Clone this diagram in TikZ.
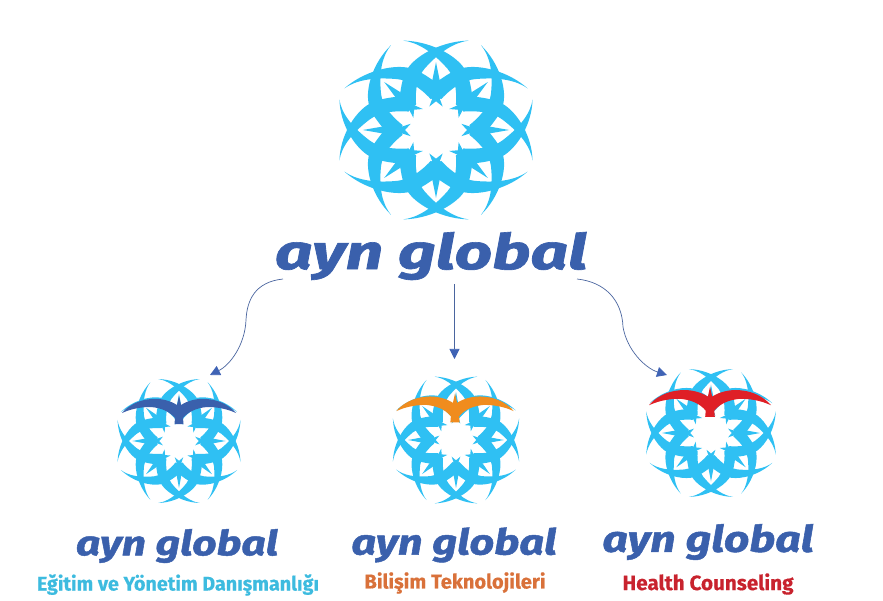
\documentclass[tikz,border=0pt]{standalone}
\usepackage{fontspec}
\usepackage{graphicx}
\setmainfont{Fira Sans}
\newfontfamily\heavyface[BoldItalicFeatures={FakeBold=1.3}]{Fira Sans}
\newfontfamily\labelface[BoldFeatures={FakeBold=0.5}]{Fira Sans}
\usetikzlibrary{arrows.meta}
\definecolor{logosky}{HTML}{2FC0F3}
\definecolor{brandblue}{HTML}{3A60AC}
\definecolor{linkblue}{HTML}{4A659F}
\definecolor{tipblue}{HTML}{3F63B5}
\definecolor{birdorange}{HTML}{F08C1E}
\definecolor{birdred}{HTML}{DF1F26}
\definecolor{labelsky}{HTML}{3DBBDF}
\definecolor{labelorange}{HTML}{D9713A}
\definecolor{labelred}{HTML}{C8232E}
\tikzset{
  rosette/.pic={
    \foreach \a in {0,45,...,315}{
      \begin{scope}[rotate=\a]
        \fill[logosky] (8,-152) .. controls (40,-176) and (60,-188) .. (85,-192) .. controls (130,-199) and (205,-180) .. (260,-128) .. controls (228,-152) and (180,-163) .. (110,-156) .. controls (80,-152) and (50,-135) .. (15,-95) -- (0,-100) -- cycle;
        \fill[logosky] (-8,-152) .. controls (-40,-176) and (-60,-188) .. (-85,-192) .. controls (-130,-199) and (-205,-180) .. (-260,-128) .. controls (-228,-152) and (-180,-163) .. (-110,-156) .. controls (-80,-152) and (-50,-135) .. (-15,-95) -- (0,-100) -- cycle;
        \fill[logosky] (0,-208) -- (10,-155) -- (11,-95) -- (19,-72) -- (0,-88) -- (-19,-72) -- (-11,-95) -- (-10,-155) -- cycle;
      \end{scope}
    }
  },
  seabird/.pic={
    \fill (0,-14) -- (2,-5) .. controls (8,-9) and (18,-12) .. (28,-11) .. controls (42,-10) and (52,-3) .. (57,3) .. controls (46,-2) and (36,-3) .. (28,-3) .. controls (18,-2) and (10,1) .. (4,8) -- (4.5,14) -- (-4.5,14) -- (-4,8) .. controls (-10,1) and (-18,-2) .. (-28,-3) .. controls (-36,-3) and (-46,-2) .. (-57,3) .. controls (-52,-3) and (-42,-10) .. (-28,-11) .. controls (-18,-12) and (-8,-9) .. (-2,-5) -- cycle;
  },
  wordmark/.style={inner sep=0pt,text=brandblue,font=\heavyface\bfseries\itshape},
  sublabel/.style={inner sep=0pt,font=\labelface\bfseries},
  linkline/.style={draw=linkblue,line width=0.7pt,-{Triangle[length=10pt,width=10pt,color=tipblue]}}
}
\begin{document}
\begin{tikzpicture}[x=1pt,y=-1pt]
\useasboundingbox (0,0) rectangle (883,601);
\pic[xscale=0.352,yscale=0.326] at (436,130) {rosette};
\pic[xscale=0.224,yscale=0.226] at (179,441) {rosette};
\pic[xscale=0.230,yscale=0.231] at (456,440) {rosette};
\pic[xscale=0.236,yscale=0.233] at (711,433) {rosette};
\pic[fill=brandblue] at (179,410) {seabird};
\pic[fill=birdorange,scale=1.03] at (455,408) {seabird};
\pic[fill=birdred,scale=1.07] at (710,402) {seabird};
\node[wordmark] (mainword) at (431,256) {\resizebox*{312pt}{48pt}{ayn global}};
\node[wordmark] (wordA) at (177,546) {\resizebox*{202pt}{34pt}{ayn global}};
\node[wordmark] (wordB) at (454,545) {\resizebox*{205pt}{35pt}{ayn global}};
\node[wordmark] (wordC) at (708,542) {\resizebox*{211pt}{36pt}{ayn global}};
\node[sublabel,text=labelsky] (labelA) at (178,585) {\resizebox{282pt}{!}{Eğitim ve Yönetim Danışmanlığı}};
\node[sublabel,text=labelorange] (labelB) at (455,583) {\resizebox{181pt}{!}{Bilişim Teknolojileri}};
\node[sublabel,text=labelred] (labelC) at (708,584) {\resizebox{171pt}{!}{Health Counseling}};
\coordinate (startA) at (283,279);
\coordinate (startB) at (454.5,284);
\coordinate (startC) at (577,279);
\coordinate (endA) at (210,375);
\coordinate (endB) at (454.5,359);
\coordinate (endC) at (667,375);
\draw[linkline] (startA) .. controls (255,282) and (247,300) .. (246,320) .. controls (245,345) and (230,365) .. (endA);
\draw[linkline] (startB) -- (endB);
\draw[linkline] (startC) .. controls (605,282) and (622,300) .. (623,327) .. controls (627,350) and (645,368) .. (endC);
\end{tikzpicture}
\end{document}
